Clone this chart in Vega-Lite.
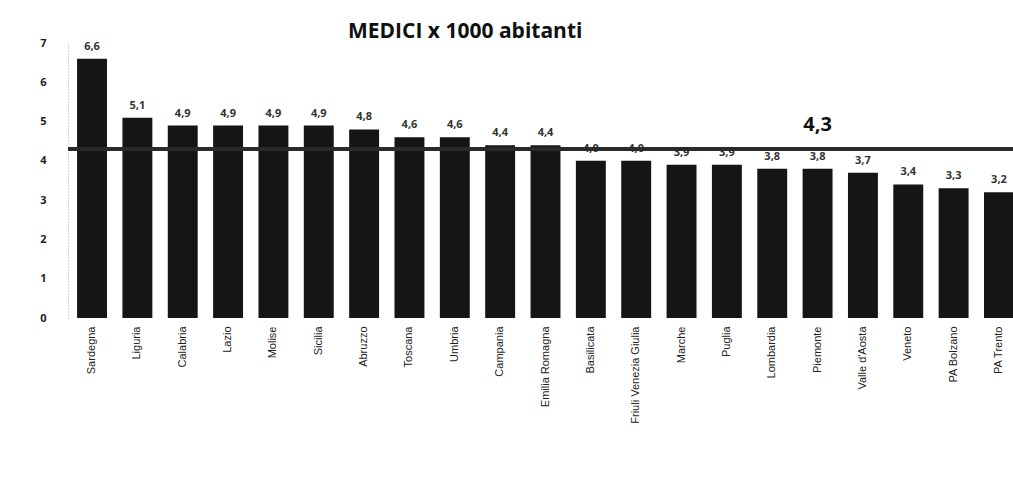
{
  "$schema": "https://vega.github.io/schema/vega-lite/v6.json",
  "autosize": {"type": "none"},
  "width": 955,
  "height": 275,
  "padding": {"left": 68, "top": 43, "right": 0, "bottom": 159},
  "background": "white",
  "config": {
    "locale": {"number": {"decimal": ",", "thousands": ".", "grouping": [3], "currency": ["", " €"]}},
    "view": {"stroke": null},
    "font": "Open Sans"
  },
  "title": {
    "text": "MEDICI x 1000 abitanti",
    "font": "Open Sans",
    "fontSize": 21,
    "fontWeight": "bold",
    "color": "#111",
    "anchor": "start",
    "frame": "group",
    "dx": 280,
    "offset": -5
  },
  "data": {
    "values": [
      {"regione": "Sardegna", "valore": 6.6},
      {"regione": "Liguria", "valore": 5.1},
      {"regione": "Calabria", "valore": 4.9},
      {"regione": "Lazio", "valore": 4.9},
      {"regione": "Molise", "valore": 4.9},
      {"regione": "Sicilia", "valore": 4.9},
      {"regione": "Abruzzo", "valore": 4.8},
      {"regione": "Toscana", "valore": 4.6},
      {"regione": "Umbria", "valore": 4.6},
      {"regione": "Campania", "valore": 4.4},
      {"regione": "Emilia Romagna", "valore": 4.4},
      {"regione": "Basilicata", "valore": 4.0},
      {"regione": "Friuli Venezia Giulia", "valore": 4.0},
      {"regione": "Marche", "valore": 3.9},
      {"regione": "Puglia", "valore": 3.9},
      {"regione": "Lombardia", "valore": 3.8},
      {"regione": "Piemonte", "valore": 3.8},
      {"regione": "Valle d'Aosta", "valore": 3.7},
      {"regione": "Veneto", "valore": 3.4},
      {"regione": "PA Bolzano", "valore": 3.3},
      {"regione": "PA Trento", "valore": 3.2}
    ]
  },
  "encoding": {
    "x": {
      "field": "regione",
      "type": "nominal",
      "sort": null,
      "scale": {"paddingInner": 0.34, "paddingOuter": 0.2},
      "axis": {
        "title": null,
        "labelAngle": 270,
        "labelFont": "Liberation Sans",
        "labelFontSize": 11,
        "labelColor": "#222",
        "labelPadding": 8,
        "labelOverlap": false,
        "ticks": false,
        "domain": false
      }
    },
    "y": {
      "field": "valore",
      "type": "quantitative",
      "scale": {"domain": [0, 7], "nice": false},
      "axis": {
        "title": null,
        "values": [0, 1, 2, 3, 4, 5, 6, 7],
        "labelOverlap": false,
        "labelBound": false,
        "grid": false,
        "ticks": false,
        "domainColor": "#aaa",
        "domainDash": [1, 2],
        "labelFontSize": 11,
        "labelFontWeight": "bold",
        "labelColor": "#222",
        "labelPadding": 22
      }
    }
  },
  "layer": [
    {
      "mark": {"type": "bar", "color": "#151515"}
    },
    {
      "mark": {"type": "text", "dy": -12, "fontSize": 11, "fontWeight": "bold", "color": "#333"},
      "encoding": {
        "text": {"field": "valore", "type": "quantitative", "format": ".1f"}
      }
    },
    {
      "data": {"values": [{"valore": 4.3}]},
      "mark": {"type": "rule", "color": "#2a2a2a", "strokeWidth": 4},
      "encoding": {
        "x": null
      }
    },
    {
      "data": {"values": [{"regione": "Piemonte", "valore": 4.3}]},
      "mark": {"type": "text", "dy": -24, "fontSize": 20, "fontWeight": "bold", "color": "#111"},
      "encoding": {
        "text": {"field": "valore", "type": "quantitative", "format": ".1f"}
      }
    }
  ]
}
